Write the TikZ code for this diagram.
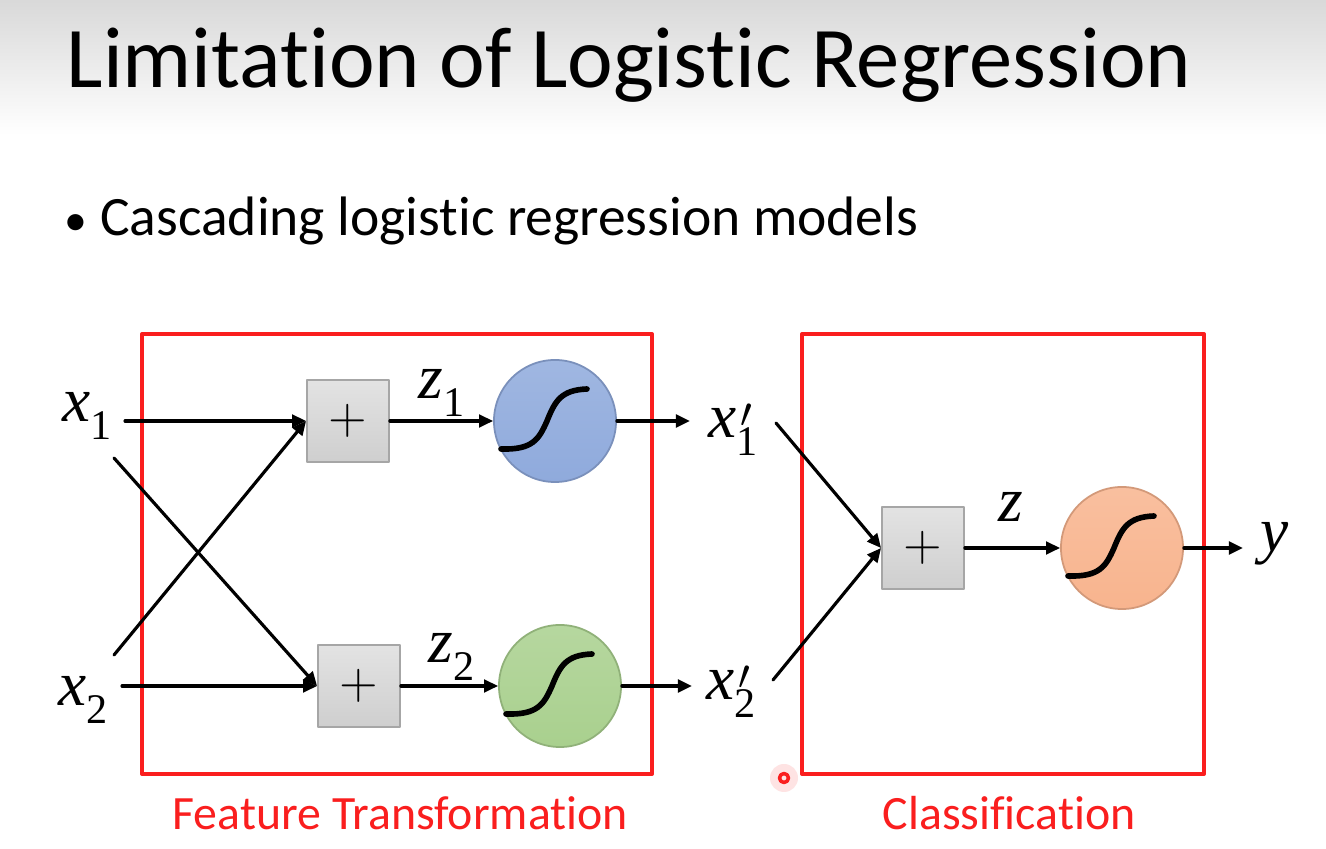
\documentclass[tikz,border=0pt]{standalone}
\usepackage{fontspec}
\setmainfont{Carlito}[Ligatures={TeX,NoCommon}]
\newfontfamily\varfont{Liberation Serif}
\usetikzlibrary{arrows.meta}

\definecolor{frame}{RGB}{250,30,30}
\definecolor{sigblue}{RGB}{143,170,220}
\definecolor{siggreen}{RGB}{169,208,142}
\definecolor{sigorange}{RGB}{248,180,142}

% variable with subscript, and with prime over the subscript
\newcommand{\vsub}[2]{\textit{#1}\raisebox{-5pt}{\fontsize{12}{12}\selectfont #2}}
\newcommand{\vsubp}[2]{\textit{#1}\raisebox{-5pt}{\fontsize{12}{12}\selectfont
  \shortstack[l]{\hspace{1pt}$\prime$\\[-3pt]#2}}}

\begin{document}
\begin{tikzpicture}[x=0.01cm,y=-0.01cm,line cap=round,line join=round,
  arr/.style={line width=0.9pt,-{Triangle[length=4pt,width=3.6pt]}},
  var/.style={font=\varfont\fontsize{18}{18}\selectfont,inner sep=0pt,anchor=base west},
  addbox/.style={draw=gray!70,line width=0.5pt,top color=gray!22,bottom color=gray!38,
    minimum size=0.82cm,inner sep=0pt,font=\fontsize{15}{15}\selectfont},
  sigmoid/.style={circle,draw=#1!85!black,line width=0.5pt,top color=#1!85!white,
    bottom color=#1,minimum size=1.22cm,inner sep=0pt},
  sigline/.style={line width=1.6pt},
  group/.style={draw=frame,line width=1.15pt},
  grouplabel/.style={text=frame,font=\fontsize{13.6}{13.6}\selectfont,inner sep=0pt,anchor=base west}]
  \useasboundingbox (0,0) rectangle (1326,849);
  \fill[white] (0,0) rectangle (1326,849);
  \fill[top color=gray!30,bottom color=white] (0,0) rectangle (1326,135);

  % heading and bullet
  \node[inner sep=0pt,anchor=base west,font=\fontsize{24.6}{24.6}\selectfont] (title) at (66,88)
    {Limitation of Logistic Regression};
  \node[inner sep=0pt,anchor=base west,font=\fontsize{15.8}{15.8}\selectfont] (bullet) at (64,236)
    {{\fontsize{13}{13}\selectfont\textbullet}\hspace{0.23em}Cascading logistic regression models};

  % the two frames
  \draw[group] (142,334) rectangle (652,774);
  \draw[group] (802,334) rectangle (1204,774);
  \node[grouplabel] (ftlabel) at (172,830) {Feature Transformation};
  \node[grouplabel] (cllabel) at (882,830) {Classification};

  % inputs
  \node[var] (x1) at (62,422) {\vsub{x}{1}};
  \node[var] (x2) at (58,706) {\vsub{x}{2}};
  \coordinate (x1o) at (125,421);
  \coordinate (x1d) at (114,458);
  \coordinate (x2o) at (122,686);
  \coordinate (x2u) at (114,655);

  % first layer
  \node[addbox] (add1) at (348,421) {$+$};
  \node[addbox] (add2) at (359,686) {$+$};
  \node[sigmoid=sigblue] (sig1) at (555,421) {};
  \node[sigmoid=siggreen] (sig2) at (560,686) {};
  \node[var] (z1) at (418,399) {\vsub{z}{1}};
  \node[var] (z2) at (428,663) {\vsub{z}{2}};

  \draw[arr] (x1o) -- (add1.west);
  \draw[arr] (x2o) -- (add2.west);
  \draw[arr] (x1d) -- (add2.west);
  \draw[arr] (x2u) -- (add1.west);
  \draw[arr] (add1.east) -- (sig1.west);
  \draw[arr] (add2.east) -- (sig2.west);

  % new features
  \node[var] (x1p) at (708,438) {\vsubp{x}{1}};
  \node[var] (x2p) at (706,700) {\vsubp{x}{2}};
  \coordinate (x1pa) at (690,421);
  \coordinate (x2pa) at (692,686);
  \draw[arr] (sig1.east) -- (x1pa);
  \draw[arr] (sig2.east) -- (x2pa);
  \coordinate (x1pd) at (776,423);
  \coordinate (x2pu) at (773,680);

  % second layer
  \node[addbox] (add3) at (923,548) {$+$};
  \node[sigmoid=sigorange] (sig3) at (1122,548) {};
  \node[var] (z) at (998,522) {\textit{z}};
  \node[var] (y) at (1260,552) {\textit{y}};
  \coordinate (ya) at (1243,548);
  \draw[arr] (x1pd) -- (add3.west);
  \draw[arr] (x2pu) -- (add3.west);
  \draw[arr] (add3.east) -- (sig3.west);
  \draw[arr] (sig3.east) -- (ya);

  % sigmoid curves
  \foreach \s in {sig1,sig2,sig3}
    \draw[sigline] ([shift={(-54,28)}]\s.center) .. controls ([shift={(-22,29)}]\s.center)
      and ([shift={(-16,18)}]\s.center) .. ([shift={(-8,0)}]\s.center)
      .. controls ([shift={(0,-20)}]\s.center) and ([shift={(6,-31)}]\s.center)
      .. ([shift={(32,-32)}]\s.center);

  % pointer mark
  \fill[frame,opacity=0.12] (784,778) circle (14);
  \draw[frame,line width=1pt] (784,778) circle (4.5);
\end{tikzpicture}
\end{document}
